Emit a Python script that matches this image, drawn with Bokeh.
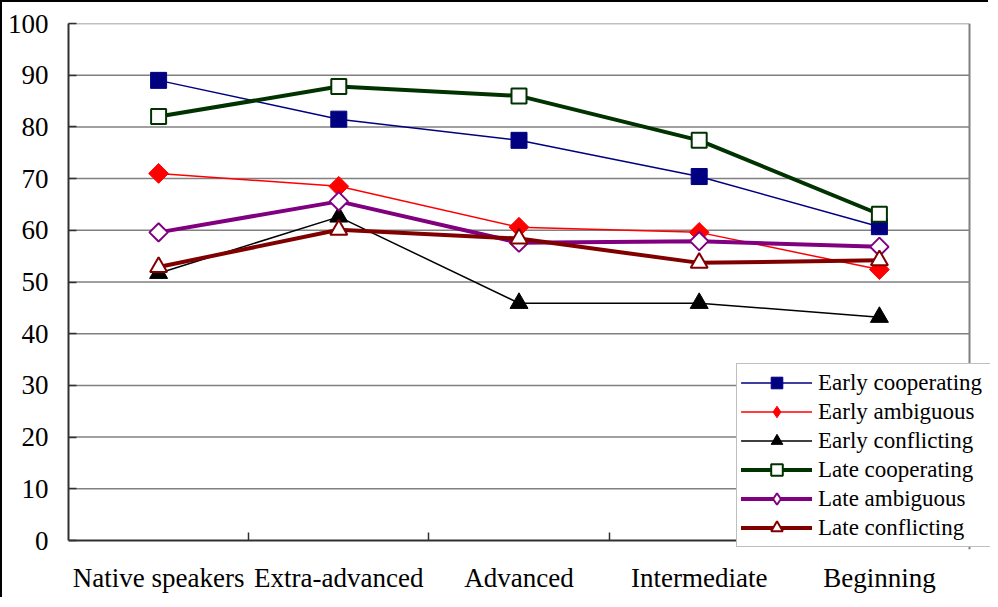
from bokeh.plotting import figure
from bokeh.models import FixedTicker, Legend, LinearAxis, Span
from bokeh.embed import file_html
from bokeh.resources import INLINE

categories = ["Native speakers", "Extra-advanced", "Advanced", "Intermediate", "Beginning"]
early_cooperating = [89.0, 81.5, 77.4, 70.4, 60.7]
early_ambiguous = [71.0, 68.5, 60.6, 59.6, 52.4]
early_conflicting = [51.7, 62.6, 45.9, 45.9, 43.2]
late_cooperating = [82.0, 87.8, 86.0, 77.4, 63.1]
late_ambiguous = [59.6, 65.6, 57.6, 57.9, 56.8]
late_conflicting = [52.9, 60.1, 58.4, 53.7, 54.2]
y_ticks = [0, 10, 20, 30, 40, 50, 60, 70, 80, 90, 100]

FONT = "Liberation Serif"
AXIS = "#303030"
GRID = "#808080"
n = len(categories)
x = [i + 0.5 for i in range(n)]
bounds_x = [i for i in range(1, n)]

p = figure(width=988, height=597, output_backend="svg", toolbar_location=None,
           x_range=(0, n * 922 / 901), y_range=(-1.74, 100),
           min_border_left=66, min_border_top=21, min_border_right=0, min_border_bottom=50)
p.styles = {"border-left": "2px solid black", "border-top": "2px solid black"}
p.outline_line_color = None
p.grid.visible = False

# horizontal gridlines limited to the plot area
grid_y = y_ticks[1:]
p.segment(x0=[0] * len(grid_y), x1=[n] * len(grid_y), y0=grid_y, y1=grid_y,
          line_color=GRID, line_width=1.5, level="underlay")
p.add_layout(Span(location=n, dimension="height", line_color=GRID, line_width=2,
                  level="underlay"))

# y axis
p.yaxis.ticker = FixedTicker(ticks=y_ticks)
p.yaxis.bounds = (0, 100)
p.yaxis.axis_line_color = AXIS
p.yaxis.axis_line_width = 2
p.yaxis.major_tick_in = 8
p.yaxis.major_tick_out = 0
p.yaxis.major_tick_line_color = AXIS
p.yaxis.major_tick_line_width = 1.5
p.yaxis.minor_tick_line_color = None
p.yaxis.major_label_text_font = FONT
p.yaxis.major_label_text_font_size = "27px"
p.yaxis.major_label_text_color = "black"
p.yaxis.major_label_standoff = 20

# x axis labels (category names)
p.xaxis.ticker = FixedTicker(ticks=x)
p.xaxis.major_label_overrides = {xx: c for xx, c in zip(x, categories)}
p.xaxis.axis_line_color = None
p.xaxis.major_tick_line_color = None
p.xaxis.major_tick_in = 0
p.xaxis.major_tick_out = 0
p.xaxis.minor_tick_line_color = None
p.xaxis.major_label_text_font = FONT
p.xaxis.major_label_text_font_size = "27px"
p.xaxis.major_label_text_color = "black"
p.xaxis.major_label_standoff = 13

# x axis line with ticks at category boundaries, placed at y = 0
xline = LinearAxis(fixed_location=0, bounds=(0, n),
                   ticker=FixedTicker(ticks=bounds_x),
                   major_label_overrides={b: "" for b in bounds_x},
                   axis_line_color=AXIS, axis_line_width=2,
                   major_tick_in=8, major_tick_out=0,
                   major_tick_line_color=AXIS, major_tick_line_width=1.5,
                   minor_tick_line_color=None)
p.add_layout(xline, "below")

series = [
    ("Early cooperating", early_cooperating, "#000080", 1.5, "square", 16, 0.0, "#000080"),
    ("Early ambiguous", early_ambiguous, "#FF0000", 1.5, "square", 14, 0.785398, "#FF0000"),
    ("Early conflicting", early_conflicting, "#000000", 1.5, "triangle", 18, 0.0, "#000000"),
    ("Late cooperating", late_cooperating, "#003300", 4, "square", 15, 0.0, "white"),
    ("Late ambiguous", late_ambiguous, "#800080", 4, "square", 13, 0.785398, "white"),
    ("Late conflicting", late_conflicting, "#800000", 4, "triangle", 17, 0.0, "white"),
]

items = []
for name, vals, col, lw, marker, size, ang, fill in series:
    mlw = 2 if fill == "white" else 1
    r1 = p.line(x, vals, line_color=col, line_width=lw, line_cap="round", line_join="round")
    r2 = p.scatter(x, vals, marker=marker, size=size, angle=ang, line_color=col,
                   fill_color=fill, line_width=mlw)
    if ang != 0.0:
        # legend-only diamond: zero size in the chart, legend glyphs get their own size
        r2 = p.scatter(x, vals, marker="diamond", size=0, line_color=col,
                       fill_color=fill, line_width=mlw)
    items.append((name, [r1, r2]))

legend = Legend(items=items, location=(668, 2))
legend.label_text_font = FONT
legend.label_text_font_size = "23px"
legend.label_text_color = "black"
legend.label_height = 29
legend.glyph_height = 29
legend.glyph_width = 71
legend.spacing = 0
legend.padding = 4
legend.margin = 0
legend.label_standoff = 6
legend.label_width = 185
legend.border_line_color = GRID
legend.border_line_width = 1.5
legend.background_fill_color = "white"
legend.background_fill_alpha = 1
p.add_layout(legend, "center")

open("out.html", "w").write(file_html(p, INLINE))
